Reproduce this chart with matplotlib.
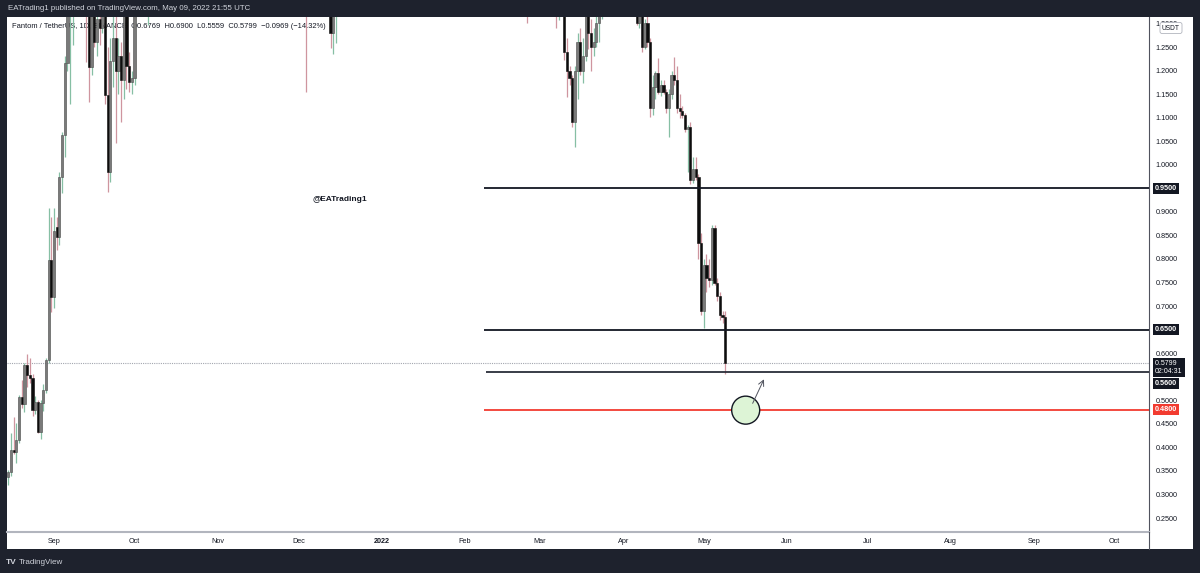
import numpy as np
import pandas as pd
import matplotlib
matplotlib.use("Agg")
import matplotlib.pyplot as plt
import matplotlib.dates as mdates
from matplotlib.patches import Rectangle, Ellipse
from matplotlib.lines import Line2D
from datetime import datetime

plt.rcParams['font.family'] = ['Liberation Sans', 'DejaVu Sans']

# daily candles (FTM/USDT), only the ones that reach into the visible price window
dates = [
    '2021-08-15', '2021-08-16', '2021-08-17', '2021-08-18', '2021-08-19', '2021-08-20',
    '2021-08-21', '2021-08-22', '2021-08-23', '2021-08-24', '2021-08-25', '2021-08-26',
    '2021-08-27', '2021-08-28', '2021-08-29', '2021-08-30', '2021-08-31', '2021-09-01',
    '2021-09-02', '2021-09-03', '2021-09-04', '2021-09-05', '2021-09-06', '2021-09-07',
    '2021-09-08', '2021-09-09', '2021-09-10', '2021-09-11', '2021-09-12', '2021-09-13',
    '2021-09-14', '2021-09-15', '2021-09-16', '2021-09-17', '2021-09-18', '2021-09-19',
    '2021-09-20', '2021-09-21', '2021-09-22', '2021-09-23', '2021-09-24', '2021-09-25',
    '2021-09-26', '2021-09-27', '2021-09-28', '2021-09-29', '2021-09-30', '2021-10-01',
    '2021-10-06', '2021-12-04', '2021-12-13', '2021-12-14', '2021-12-15', '2022-02-24',
    '2022-03-07', '2022-03-08', '2022-03-09', '2022-03-10', '2022-03-11', '2022-03-12',
    '2022-03-13', '2022-03-14', '2022-03-15', '2022-03-16', '2022-03-17', '2022-03-18',
    '2022-03-19', '2022-03-20', '2022-03-21', '2022-03-22', '2022-03-23', '2022-03-24',
    '2022-04-06', '2022-04-07', '2022-04-08', '2022-04-09', '2022-04-10', '2022-04-11',
    '2022-04-12', '2022-04-13', '2022-04-14', '2022-04-15', '2022-04-16', '2022-04-17',
    '2022-04-18', '2022-04-19', '2022-04-20', '2022-04-21', '2022-04-22', '2022-04-23',
    '2022-04-24', '2022-04-25', '2022-04-26', '2022-04-27', '2022-04-28', '2022-04-29',
    '2022-04-30', '2022-05-01', '2022-05-02', '2022-05-03', '2022-05-04', '2022-05-05',
    '2022-05-06', '2022-05-07', '2022-05-08', '2022-05-09',
]
opens = [
    0.337, 0.348, 0.394, 0.390, 0.416, 0.507, 0.492, 0.575, 0.554, 0.548, 0.479, 0.496,
    0.433, 0.494, 0.522, 0.585, 0.798, 0.720, 0.868, 0.846, 0.974, 1.063, 1.216, 1.400,
    1.450, 1.600, 1.750, 1.620, 1.550, 1.400, 1.330, 1.207, 1.360, 1.260, 1.310, 1.290,
    1.450, 1.148, 0.985, 1.220, 1.270, 1.200, 1.230, 1.180, 1.320, 1.210, 1.175, 1.185,
    1.600, 2.100, 1.450, 1.280, 1.400, 1.650,
    1.420, 1.370, 1.400, 1.450, 1.240, 1.200, 1.184, 1.090, 1.200, 1.260, 1.200, 1.230,
    1.320, 1.280, 1.250, 1.260, 1.300, 1.350,
    1.400, 1.300, 1.320, 1.250, 1.300, 1.260, 1.120, 1.165, 1.195, 1.155, 1.170, 1.155,
    1.120, 1.150, 1.190, 1.180, 1.120, 1.115, 1.105, 1.075, 1.080, 0.968, 0.990, 0.975,
    0.834, 0.690, 0.787, 0.760, 0.755, 0.866, 0.750, 0.722, 0.680, 0.6769,
]
highs = [
    0.352, 0.430, 0.465, 0.452, 0.512, 0.543, 0.580, 0.598, 0.590, 0.556, 0.510, 0.500,
    0.500, 0.535, 0.590, 0.908, 0.889, 0.908, 0.890, 0.985, 1.070, 1.230, 1.480, 1.620,
    1.660, 1.850, 1.800, 1.700, 1.600, 1.450, 1.360, 1.400, 1.420, 1.360, 1.400, 1.500,
    1.480, 1.250, 1.270, 1.330, 1.340, 1.270, 1.260, 1.330, 1.360, 1.240, 1.200, 1.450,
    1.800, 2.150, 1.500, 1.450, 1.550, 1.700,
    1.460, 1.450, 1.500, 1.470, 1.270, 1.210, 1.190, 1.210, 1.280, 1.290, 1.270, 1.340,
    1.360, 1.310, 1.290, 1.330, 1.360, 1.420,
    1.420, 1.350, 1.330, 1.310, 1.320, 1.270, 1.190, 1.200, 1.227, 1.180, 1.180, 1.160,
    1.160, 1.200, 1.228, 1.210, 1.150, 1.125, 1.110, 1.085, 1.090, 1.016, 1.016, 0.980,
    0.855, 0.800, 0.810, 0.800, 0.872, 0.872, 0.760, 0.730, 0.690, 0.6900,
]
lows = [
    0.320, 0.340, 0.386, 0.367, 0.410, 0.483, 0.476, 0.528, 0.537, 0.466, 0.470, 0.430,
    0.418, 0.478, 0.515, 0.580, 0.687, 0.695, 0.820, 0.830, 0.940, 1.016, 1.200, 1.129,
    1.254, 1.500, 1.550, 1.520, 1.360, 1.218, 1.133, 1.190, 1.250, 1.230, 1.255, 1.280,
    1.130, 0.942, 0.963, 1.165, 1.046, 1.150, 1.091, 1.140, 1.160, 1.155, 1.150, 1.170,
    1.297, 1.154, 1.248, 1.235, 1.258, 1.300,
    1.290, 1.307, 1.360, 1.222, 1.144, 1.170, 1.080, 1.038, 1.140, 1.190, 1.174, 1.220,
    1.245, 1.200, 1.230, 1.250, 1.260, 1.310,
    1.297, 1.290, 1.240, 1.245, 1.250, 1.101, 1.105, 1.140, 1.150, 1.145, 1.150, 1.110,
    1.059, 1.140, 1.170, 1.110, 1.100, 1.100, 1.070, 0.985, 0.960, 0.962, 0.968, 0.800,
    0.680, 0.653, 0.730, 0.740, 0.745, 0.745, 0.710, 0.670, 0.664, 0.5559,
]
closes = [
    0.348, 0.394, 0.390, 0.416, 0.507, 0.492, 0.575, 0.554, 0.548, 0.479, 0.496, 0.433,
    0.494, 0.522, 0.585, 0.798, 0.720, 0.860, 0.846, 0.974, 1.063, 1.216, 1.400, 1.450,
    1.600, 1.750, 1.620, 1.550, 1.400, 1.330, 1.207, 1.360, 1.260, 1.310, 1.290, 1.450,
    1.148, 0.985, 1.220, 1.270, 1.200, 1.230, 1.180, 1.320, 1.210, 1.175, 1.185, 1.400,
    1.700, 1.700, 1.280, 1.400, 1.500, 1.500,
    1.370, 1.400, 1.450, 1.240, 1.200, 1.184, 1.090, 1.200, 1.260, 1.200, 1.230, 1.320,
    1.280, 1.250, 1.260, 1.300, 1.350, 1.400,
    1.300, 1.320, 1.250, 1.300, 1.260, 1.120, 1.165, 1.195, 1.155, 1.170, 1.155, 1.120,
    1.150, 1.190, 1.180, 1.120, 1.115, 1.105, 1.075, 1.080, 0.968, 0.990, 0.975, 0.834,
    0.690, 0.787, 0.760, 0.755, 0.866, 0.750, 0.722, 0.680, 0.677, 0.5799,
]

# horizontal levels drawn on the chart
level_prices = [0.95, 0.65, 0.56, 0.48]
level_starts = ['2022-02-08', '2022-02-08', '2022-02-09', '2022-02-08']
level_colors = ['#131722', '#131722', '#2a2e39', '#f23b30']
last_price = 0.5799
target_price = 0.48

price_ticks = [0.25, 0.30, 0.35, 0.40, 0.45, 0.50, 0.60, 0.70, 0.75, 0.80, 0.85,
               0.90, 1.00, 1.05, 1.10, 1.15, 1.20, 1.25, 1.30]
month_starts = ['2021-09-01', '2021-10-01', '2021-11-01', '2021-12-01', '2022-01-01',
                '2022-02-01', '2022-03-01', '2022-04-01', '2022-05-01', '2022-06-01',
                '2022-07-01', '2022-08-01', '2022-09-01', '2022-10-01']
month_labels = ['Sep', 'Oct', 'Nov', 'Dec', '2022', 'Feb', 'Mar', 'Apr', 'May', 'Jun',
                'Jul', 'Aug', 'Sep', 'Oct']

W, H = 1200, 573
BG = '#1e222d'


def fx(px):
    return px / W


def fy(py):
    return 1 - py / H


fig = plt.figure(figsize=(W / 100, H / 100), dpi=100, facecolor=BG)
fig.patches.append(Rectangle((fx(7), fy(549)), (1193 - 7) / W, (549 - 17) / H,
                             transform=fig.transFigure, facecolor='white',
                             edgecolor='none', zorder=-5))

ax = fig.add_axes([fx(7), fy(532), (1149 - 7) / W, (532 - 17) / H])
ax.set_facecolor('white')

x = mdates.date2num(pd.to_datetime(dates))
o = np.array(opens)
h = np.array(highs)
l = np.array(lows)
c = np.array(closes)
up = c >= o

wick_cols = np.where(up, '#86bfa4', '#cf959f')
body_cols = np.where(up, '#7a7a7a', '#0d0d0d')
edge_cols = np.where(up, '#4a4a4a', '#0d0d0d')

ax.vlines(x, l, h, colors=wick_cols, linewidth=0.9, zorder=2)
body_h = np.maximum(np.abs(c - o), 0.002)
ax.bar(x, body_h, width=0.82, bottom=np.minimum(o, c), color=body_cols,
       edgecolor=edge_cols, linewidth=0.4, zorder=3)

base = mdates.date2num(datetime(2021, 9, 1))
ax.set_xlim(base - 17.5, base + 407.8)
ax.set_ylim(0.2203, 1.3137)
xmax = base + 407.8

# key levels
for p, s, col in zip(level_prices, level_starts, level_colors):
    ax.hlines(p, mdates.date2num(pd.Timestamp(s)), xmax, colors=col, linewidth=1.3, zorder=4)
ax.axhline(last_price, color='#a3a6af', linestyle=(0, (1, 1)), linewidth=0.8, zorder=1)

# circle + arrow annotation
circ_x = base + 257.6
ax.add_patch(Ellipse((circ_x, target_price - 0.001), width=28 / 2.685, height=28 / 471,
                     facecolor='#ddf4d6', edgecolor='#131722', linewidth=1.0, zorder=5))
ax.annotate('', xy=(base + 264.4, 0.5445), xytext=(base + 260.2, 0.4935),
            arrowprops=dict(arrowstyle='->', color='#50535e', lw=0.7,
                            shrinkA=0, shrinkB=0), zorder=6)

ax.text(base + 106.5, 0.927, '@EATrading1', fontsize=6, fontweight='bold',
        color='#131722', ha='center', va='center', zorder=1)

ax.text(5 / 1142, (532 - 27) / 515,
        'Fantom / TetherUS, 1D, BINANCE  O0.6769  H0.6900  L0.5559  C0.5799  '
        '\u22120.0969 (\u221214.32%)',
        transform=ax.transAxes, fontsize=5.4, color='#131722', va='center', zorder=1)

# axes styling
ax.yaxis.tick_right()
ax.set_yticks(price_ticks)
ax.set_yticklabels([f'{v:.4f}' for v in price_ticks])
ax.tick_params(axis='y', length=0, pad=4.5, labelsize=5.2, colors='#131722')
ax.set_xticks(mdates.date2num(pd.to_datetime(month_starts)))
ax.set_xticklabels(month_labels)
ax.tick_params(axis='x', length=0, pad=4.5, labelsize=5.2, colors='#131722')
for lab in ax.get_xticklabels():
    if lab.get_text() == '2022':
        lab.set_fontweight('bold')
for side in ['top', 'left']:
    ax.spines[side].set_visible(False)
ax.spines['right'].set_color('#50535e')
ax.spines['right'].set_linewidth(0.8)
ax.spines['bottom'].set_color('#b2b5be')
ax.spines['bottom'].set_linewidth(1.5)
fig.add_artist(Line2D([fx(1149), fx(1149)], [fy(532), fy(549)], transform=fig.transFigure,
                      color='#50535e', linewidth=0.8))

# price badges on the scale
badge = dict(boxstyle='square,pad=0.3', facecolor='#131722', edgecolor='none')
for p, txt in [(0.95, '0.9500'), (0.65, '0.6500')]:
    ax.annotate(txt, xy=(fx(1155), p), xycoords=('figure fraction', 'data'),
                fontsize=5.2, color='white', fontweight='bold', va='center',
                bbox=badge, annotation_clip=False, zorder=10)
ax.annotate('0.5799  \n02:04:31', xy=(fx(1155), last_price), xycoords=('figure fraction', 'data'),
            xytext=(0, -3.6), textcoords='offset points',
            fontsize=5.0, color='white', va='center', linespacing=1.25,
            bbox=badge, annotation_clip=False, zorder=10)
ax.annotate('0.5600', xy=(fx(1155), 0.56), xycoords=('figure fraction', 'data'),
            xytext=(0, -8.3), textcoords='offset points',
            fontsize=5.2, color='white', fontweight='bold', va='center',
            bbox=badge, annotation_clip=False, zorder=10)
ax.annotate('0.4800', xy=(fx(1155), target_price), xycoords=('figure fraction', 'data'),
            fontsize=5.2, color='white', fontweight='bold', va='center',
            bbox=dict(boxstyle='square,pad=0.3', facecolor='#f23b30', edgecolor='none'),
            annotation_clip=False, zorder=10)
fig.text(fx(1171), fy(28), 'USDT', fontsize=4.8, color='#131722', ha='center', va='center',
         bbox=dict(boxstyle='round,pad=0.3', facecolor='white', edgecolor='#b2b5be', lw=0.6),
         zorder=10)

# frame texts
fig.text(fx(8), fy(8.5), 'EATrading1 published on TradingView.com, May 09, 2022 21:55 UTC',
         fontsize=5.7, color='#d1d4dc', va='center')
fig.text(fx(6), fy(562), 'TV', fontsize=6, color='#d1d4dc', fontweight='bold', va='center')
fig.text(fx(18.5), fy(562), 'TradingView', fontsize=5.8, color='#d1d4dc', va='center')

fig.savefig('out.png', dpi=100, facecolor=BG)
